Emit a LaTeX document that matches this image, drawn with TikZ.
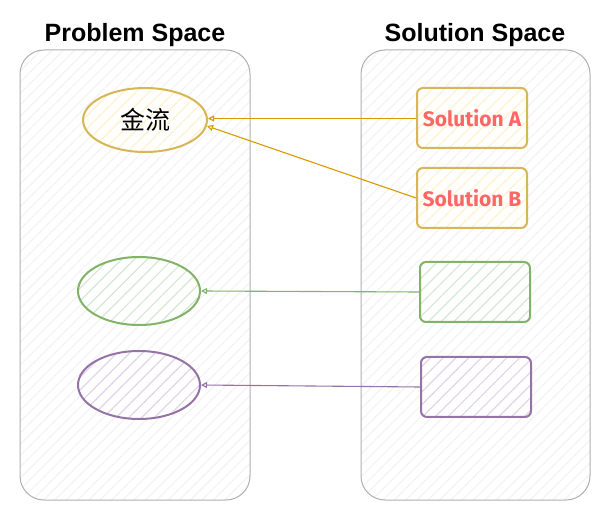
\documentclass[tikz,border=0pt]{standalone}
\usepackage{fontspec}
\setmainfont{Liberation Sans}
\newfontfamily\cjk{Noto Sans CJK SC}
\newfontfamily\solfont{Fira Sans}
\usetikzlibrary{patterns.meta,arrows.meta,shapes.geometric}
\definecolor{goldline}{HTML}{D6B656}
\definecolor{goldfill}{HTML}{FFF2CC}
\definecolor{greenline}{HTML}{82B366}
\definecolor{greenfill}{HTML}{D5E8D4}
\definecolor{purpleline}{HTML}{9673A6}
\definecolor{purplefill}{HTML}{E1D5E7}
\definecolor{arrowgold}{HTML}{D79B00}
\definecolor{solred}{HTML}{FF6666}
\definecolor{contline}{HTML}{B0B0B0}
\definecolor{conthatch}{HTML}{F2F2F2}
\tikzset{
  container/.style={draw=contline, line width=1pt, rounded corners=24pt,
    preaction={fill=white},
    pattern={Lines[angle=45,distance=8pt,line width=1pt]}, pattern color=conthatch},
  title/.style={font=\bfseries\fontsize{25}{28}\selectfont, text=black},
  probell/.style={ellipse, line width=2pt, inner sep=0pt, preaction={fill=white}},
  solbox/.style={rectangle, rounded corners=6pt, line width=2pt, preaction={fill=white},
    minimum width=110pt, minimum height=60pt, inner sep=0pt},
  hatch/.style={pattern={Lines[angle=45,distance=9pt,line width=1.2pt]}, pattern color=#1},
  soltext/.style={font=\solfont\bfseries\fontsize{21}{24}\selectfont, text=solred},
  link/.style={-{Triangle[open,length=6pt,width=6pt]}, line width=1.1pt}
}
\begin{document}
\begin{tikzpicture}[x=1pt,y=-1pt]
\useasboundingbox (0,0) rectangle (611,521);
% containers
\draw[container] (20,50) rectangle (250,500);
\draw[container] (361,50) rectangle (590,500);
\node[title] (pt) at (135,35) {Problem Space};
\node[title] (st) at (475,35) {Solution Space};
% problem ellipses
\node[probell, draw=goldline, hatch=goldfill, minimum width=124pt, minimum height=64pt] (p1) at (145,120) {\cjk\fontsize{25}{28}\selectfont 金流};
\node[probell, draw=greenline, hatch=greenfill, minimum width=122pt, minimum height=68pt] (p2) at (139,291) {};
\node[probell, draw=purpleline, hatch=purplefill, minimum width=122pt, minimum height=68pt] (p3) at (139,385) {};
% solution boxes
\node[solbox, draw=goldline, hatch=goldfill] (sa) at (472,118) {};
\node[soltext] (sat) at (sa.center) {Solution A};
\node[solbox, draw=goldline, hatch=goldfill] (sb) at (472,198) {};
\node[soltext] (sbt) at (sb.center) {Solution B};
\node[solbox, draw=greenline, hatch=greenfill] (sc) at (475,292) {};
\node[solbox, draw=purpleline, hatch=purplefill] (sd) at (476,387) {};
% links
\coordinate (a1) at (208,118.5);
\coordinate (a2) at (207,126);
\draw[link, draw=arrowgold] (sa.west) ++(0,0.5) -- (a1);
\draw[link, draw=arrowgold] (sb.west) -- (a2);
\draw[link, draw=greenline] (sc.west) -- (p2.east);
\draw[link, draw=purpleline] (sd.west) -- (p3.east);
\end{tikzpicture}
\end{document}
